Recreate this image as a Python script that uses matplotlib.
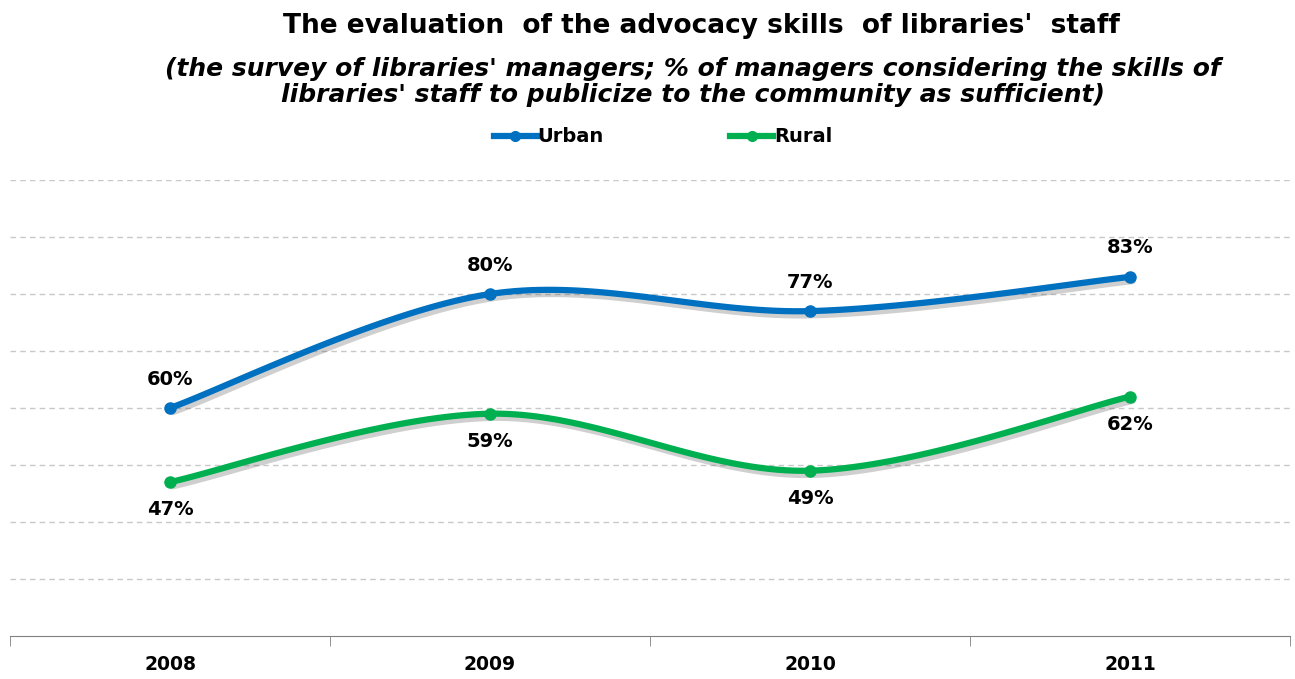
import matplotlib
matplotlib.use("Agg")
import matplotlib.pyplot as plt
import matplotlib.patheffects as pe
from matplotlib.lines import Line2D
import numpy as np

years = ['2008', '2009', '2010', '2011']
urban = [60, 80, 77, 83]
rural = [47, 59, 49, 62]
urban_color = '#0070C0'
rural_color = '#00B050'


def smooth(xs, ys, n=40):
    # Catmull-Rom style smoothing like Excel's smoothed lines
    xs = np.asarray(xs, float)
    ys = np.asarray(ys, float)
    px = np.concatenate([[xs[0]], xs, [xs[-1]]])
    py = np.concatenate([[ys[0]], ys, [ys[-1]]])
    ox, oy = [], []
    for i in range(1, len(px) - 2):
        p0 = np.array([px[i - 1], py[i - 1]])
        p1 = np.array([px[i], py[i]])
        p2 = np.array([px[i + 1], py[i + 1]])
        p3 = np.array([px[i + 2], py[i + 2]])
        c1 = p1 + (p2 - p0) / 6.0
        c2 = p2 - (p3 - p1) / 6.0
        t = np.linspace(0, 1, n)[:, None]
        b = ((1 - t) ** 3) * p1 + 3 * ((1 - t) ** 2) * t * c1 + 3 * (1 - t) * t ** 2 * c2 + t ** 3 * p2
        ox.extend(b[:, 0])
        oy.extend(b[:, 1])
    return np.array(ox), np.array(oy)


fig = plt.figure(figsize=(12.95, 6.79), dpi=100)
ax = fig.add_axes([10 / 1295, 1 - 636 / 679, 1280 / 1295, (636 - 180) / 679])

x = np.arange(len(years))
shadow = [pe.SimpleLineShadow(offset=(2, -3), shadow_color='#555555', alpha=0.28), pe.Normal()]

for vals, col in [(urban, urban_color), (rural, rural_color)]:
    sx, sy = smooth(x, vals)
    ax.plot(sx, sy, color=col, lw=4.5, solid_capstyle='round', path_effects=shadow, zorder=3)
    ax.plot(x, vals, 'o', color=col, ms=8, zorder=4)

# legend handles
handles = [Line2D([0], [0], color=urban_color, lw=4.5, marker='o', ms=7),
           Line2D([0], [0], color=rural_color, lw=4.5, marker='o', ms=7)]
fig.legend(handles, ['Urban', 'Rural'], loc='center', bbox_to_anchor=(0.512, 1 - 137 / 679),
           ncol=2, frameon=False, handlelength=2.2, handletextpad=0.05, columnspacing=6.5,
           prop={'weight': 'bold', 'size': 14})

# data labels
for i, v in enumerate(urban):
    ax.annotate(f'{v}%', (i, v), xytext=(0, 14), textcoords='offset points', ha='center',
                va='bottom', fontsize=14, fontweight='bold')
for i, v in enumerate(rural):
    ax.annotate(f'{v}%', (i, v), xytext=(0, -13), textcoords='offset points', ha='center',
                va='top', fontsize=14, fontweight='bold')

ax.set_xlim(-0.5, 3.5)
ax.set_ylim(20, 100)
ax.set_yticks(np.arange(30, 101, 10))
ax.yaxis.grid(True, color='#C8C8C8', ls=(0, (4, 3)), lw=1)
ax.tick_params(axis='y', left=False, labelleft=False)
for s in ['top', 'left', 'right']:
    ax.spines[s].set_visible(False)
ax.spines['bottom'].set_color('#808080')
ax.set_xticks(x)
ax.set_xticklabels(years, fontsize=13.5, fontweight='bold')
ax.tick_params(axis='x', which='major', length=0, pad=14)
ax.set_xticks(np.arange(-0.5, 3.6, 1), minor=True)
ax.tick_params(axis='x', which='minor', length=7, color='#808080')
ax.set_axisbelow(True)

fig.text(0.542, 1 - 26 / 679, "The evaluation  of the advocacy skills  of libraries'  staff",
         ha='center', va='center', fontsize=19, fontweight='bold')
fig.text(0.535, 1 - 82 / 679,
         "(the survey of libraries' managers; % of managers considering the skills of\n"
         "libraries' staff to publicize to the community as sufficient)",
         ha='center', va='center', fontsize=18, fontstyle='italic', fontweight='bold',
         linespacing=1.1)

fig.savefig('out.png', dpi=100)
